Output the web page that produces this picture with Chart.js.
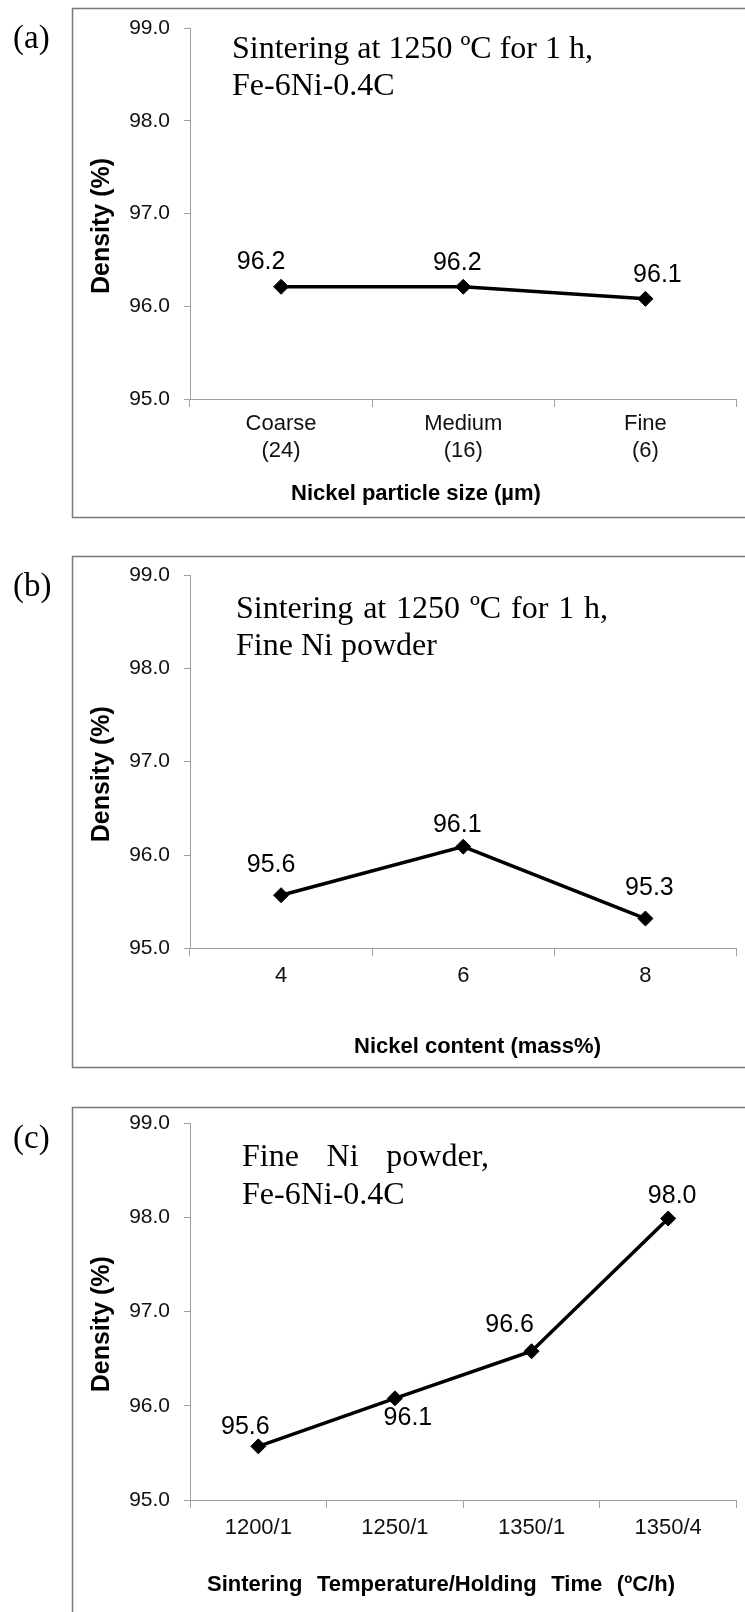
<!DOCTYPE html>
<html><head><meta charset="utf-8">
<script src="https://cdn.jsdelivr.net/npm/chart.js@4.4.1/dist/chart.umd.min.js"></script>
<style>
html,body{margin:0;padding:0;background:#fff;width:745px;height:1612px;overflow:hidden;}
canvas{position:absolute;left:0;}
</style></head><body>
<canvas id="ca" width="745" height="520" style="top:0px;width:745px;height:520px"></canvas>
<canvas id="cb" width="745" height="530" style="top:540px;width:745px;height:530px"></canvas>
<canvas id="cc" width="745" height="522" style="top:1090px;width:745px;height:522px"></canvas>
<script>
// ---- data ----
const yTickMin = 95.0;
const yTickMax = 99.0;
const yTickStep = 1.0;
const yAxisTitle = 'Density (%)';
const categoriesA = [['Coarse', '(24)'], ['Medium', '(16)'], ['Fine', '(6)']];
const densityA = [96.21, 96.21, 96.08];
const categoriesB = ['4', '6', '8'];
const densityB = [95.57, 96.09, 95.32];
const categoriesC = ['1200/1', '1250/1', '1350/1', '1350/4'];
const densityC = [95.57, 96.08, 96.58, 97.99];
const xTitleA = 'Nickel particle size (µm)';
const xTitleB = 'Nickel content (mass%)';
const xTitleC = 'Sintering Temperature/Holding Time (ºC/h)';
const noteA = ['Sintering at 1250 ºC for 1 h,', 'Fe-6Ni-0.4C'];
const noteB = ['Sintering at 1250 ºC for 1 h,', 'Fine Ni powder'];
const noteC = ['Fine Ni powder,', 'Fe-6Ni-0.4C'];
const panelLabels = ['(a)', '(b)', '(c)'];

// ---- styles / layout ----
const SANS = '"Liberation Sans", Arial, sans-serif';
const SERIF = '"Liberation Serif", "Times New Roman", serif';
const axisGray = '#a0a0a0';
const frameGray = '#7a7a7a';

const layoutA = {canvasH: 520, frameTop: 8, frameBottom: 517, chartTop: 28, chartBottom: 399, tickPad: 4,
  label: {x: 13, y: 48}, note: {x: 232, ys: [57.5, 95], widths: [null, null]},
  xTitle: {x: 291, y: 494, width: null}, labelOffsets: [[-20, -25], [-6, -24], [12, -24]]};
const layoutB = {canvasH: 530, frameTop: 16, frameBottom: 527, chartTop: 35, chartBottom: 408.4, tickPad: 6,
  label: {x: 13, y: 56}, note: {x: 236, ys: [77.5, 115], widths: [372, null]},
  xTitle: {x: 354, y: 507, width: null}, labelOffsets: [[-10, -30], [-6, -22], [4, -30]]};
const layoutC = {canvasH: 522, frameTop: 17, frameBottom: 700, chartTop: 33.4, chartBottom: 410, tickPad: 7,
  label: {x: 13, y: 58}, note: {x: 242, ys: [76, 114], widths: [247, null]},
  xTitle: {x: 207, y: 495, width: 468}, labelOffsets: [[-13, -19], [13, 20], [-22, -26], [4, -22]]};

function drawLine(ctx, text, x, y, width) {
  if (!width) { ctx.fillText(text, x, y); return; }
  const words = text.split(' ');
  const total = words.reduce((s, w) => s + ctx.measureText(w).width, 0);
  const gap = (width - total) / (words.length - 1);
  let cx = x;
  words.forEach(w => { ctx.fillText(w, cx, y); cx += ctx.measureText(w).width + gap; });
}

function makeDecor(L, panelLabel, note, xTitle) {
  return {
    id: 'decor',
    beforeDraw(chart) {
      const ctx = chart.ctx;
      ctx.save();
      ctx.strokeStyle = frameGray;
      ctx.lineWidth = 1.5;
      ctx.strokeRect(72.5, L.frameTop + 0.5, 720, L.frameBottom - L.frameTop);
      ctx.restore();
    },
    afterDraw(chart) {
      const ctx = chart.ctx;
      ctx.save();
      ctx.fillStyle = '#000';
      // panel label
      ctx.font = '33px ' + SERIF;
      ctx.textAlign = 'left';
      ctx.textBaseline = 'alphabetic';
      ctx.fillText(panelLabel, L.label.x, L.label.y);
      // note text
      ctx.font = '32px ' + SERIF;
      note.forEach((t, i) => drawLine(ctx, t, L.note.x, L.note.ys[i], L.note.widths[i]));
      // x axis title
      ctx.font = 'bold 22px ' + SANS;
      ctx.textBaseline = 'middle';
      drawLine(ctx, xTitle, L.xTitle.x, L.xTitle.y, L.xTitle.width);
      // data labels
      const meta = chart.getDatasetMeta(0);
      const vals = chart.data.datasets[0].data;
      ctx.font = '25px ' + SANS;
      ctx.textAlign = 'center';
      ctx.textBaseline = 'middle';
      meta.data.forEach((el, i) => {
        const o = L.labelOffsets[i];
        ctx.fillText(vals[i].toFixed(1), el.x + o[0], el.y + o[1]);
      });
      ctx.restore();
    }
  };
}

function makeChart(id, cats, values, L, panelLabel, note, xTitle) {
  return new Chart(document.getElementById(id), {
    type: 'line',
    data: {
      labels: cats,
      datasets: [{
        data: values,
        borderColor: '#000',
        borderWidth: 3.5,
        pointStyle: 'rectRot',
        pointRadius: 7.5,
        pointBackgroundColor: '#000',
        pointBorderColor: '#000',
        pointBorderWidth: 1,
        tension: 0,
        fill: false
      }]
    },
    options: {
      responsive: false,
      animation: false,
      devicePixelRatio: 1,
      layout: {padding: {top: L.chartTop, right: 6, left: 0, bottom: 0}},
      plugins: {legend: {display: false}, tooltip: {enabled: false}, title: {display: false}},
      scales: {
        x: {
          type: 'category',
          offset: true,
          grid: {offset: true, drawOnChartArea: false, drawTicks: true, tickLength: 8, color: axisGray, lineWidth: 1},
          border: {display: true, color: axisGray, width: 1},
          ticks: {font: {family: SANS, size: 22}, color: '#111', padding: L.tickPad, maxRotation: 0, autoSkip: false},
          afterFit: s => { s.height = L.canvasH - L.chartBottom; }
        },
        y: {
          min: yTickMin,
          max: yTickMax,
          ticks: {stepSize: yTickStep, callback: v => Number(v).toFixed(1), font: {family: SANS, size: 21}, color: '#111', padding: 14},
          grid: {drawOnChartArea: false, drawTicks: true, tickLength: 6, color: axisGray, lineWidth: 1},
          border: {display: true, color: axisGray, width: 1},
          title: {display: true, text: yAxisTitle + '\u2002\u2002', color: '#000',
            font: {family: SANS, size: 25, weight: 'bold'}, padding: {top: 87, bottom: 0}},
          afterFit: s => { s.width = 190; }
        }
      }
    },
    plugins: [makeDecor(L, panelLabel, note, xTitle)]
  });
}

makeChart('ca', categoriesA, densityA, layoutA, panelLabels[0], noteA, xTitleA);
makeChart('cb', categoriesB, densityB, layoutB, panelLabels[1], noteB, xTitleB);
makeChart('cc', categoriesC, densityC, layoutC, panelLabels[2], noteC, xTitleC);
</script>
</body></html>
